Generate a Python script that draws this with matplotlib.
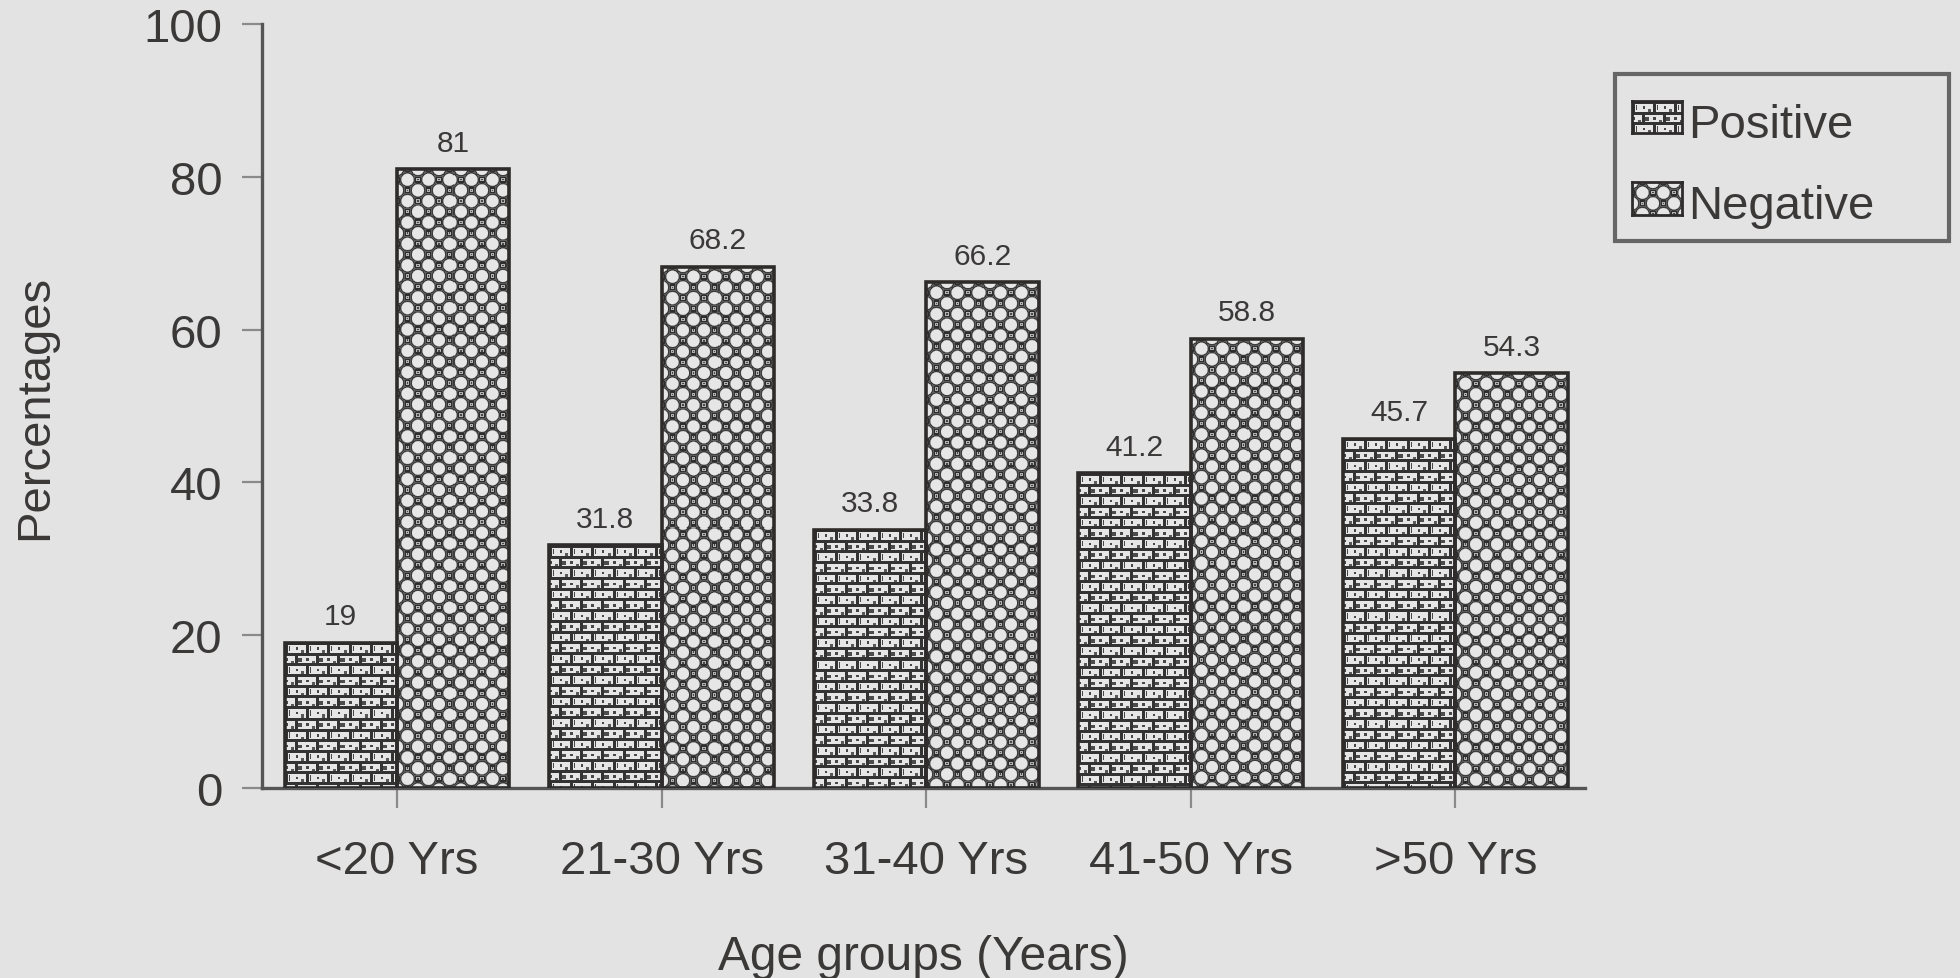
import numpy as np
import matplotlib
matplotlib.use("Agg")
import matplotlib.pyplot as plt
from matplotlib.patches import Rectangle

# ---- data ----
categories = ["<20 Yrs", "21-30 Yrs", "31-40 Yrs", "41-50 Yrs", ">50 Yrs"]
positive = [19, 31.8, 33.8, 41.2, 45.7]
negative = [81, 68.2, 66.2, 58.8, 54.3]
series_names = ["Positive", "Negative"]
y_ticks = [0, 20, 40, 60, 80, 100]

BG = "#e3e3e3"
INK = "#3b3838"
EDGE = "#2e2b2b"
plt.rcParams["font.family"] = ["Liberation Sans", "DejaVu Sans"]


def brick_texture(w, h):
    """Brick-wall fill, built in pixel units."""
    yy, xx = np.mgrid[0:h, 0:w] + 0.5
    rh, bw = 10.7, 21.0
    row = np.floor(yy / rh)
    v = yy - row * rh
    odd = (row % 2) == 1
    u = (xx + odd * bw / 2) % bw
    img = np.full((h, w), 0.90)
    mort = 3.0
    img[(v < mort) | (u < mort)] = 0.20
    inside = (v >= mort) & (u >= mort)
    dot = (np.abs(u - 12.0) < 1.3) & (np.abs(v - 6.8) < 1.3)
    img[dot & inside] = 0.28
    tick = (~odd) & (u >= 4.0) & (u < 5.5) & (v > 3.8) & (v < 9.2)
    img[tick & inside] = 0.28
    blob = odd & (u < 7.0) & (v > 5.5) & (v < 9.2)
    img[blob & inside] = 0.30
    foot = (u > 16.0) & (u < 19.5) & (v > 8.0)
    img[foot & inside] = 0.35
    return img


def lattice_texture(w, h):
    """Light circles on a diagonal lattice with small squares between them."""
    yy, xx = np.mgrid[0:h, 0:w] + 0.5
    px, py = 21.0, 21.4
    u = xx % px
    v = yy % py
    circ = [(0, 0), (px, 0), (0, py), (px, py), (px / 2, py / 2)]
    sq = [(px / 2, 0), (px / 2, py), (0, py / 2), (px, py / 2)]
    dc = np.min([np.hypot(u - cx, v - cy) for cx, cy in circ], axis=0)
    ds = np.min([np.maximum(np.abs(u - cx), np.abs(v - cy)) for cx, cy in sq], axis=0)
    r = 6.5
    img = np.full((h, w), 0.36)
    img = np.where(dc < r + 0.8, 0.24, img)
    img = np.where(dc < r, np.clip(0.90 - (dc - (r - 1.0)) * 0.5, 0.4, 0.9), img)
    img = np.where(ds < 3.0, 0.18, img)
    img = np.where(ds < 1.6, 0.70, img)
    img = np.where(ds < 0.7, 0.28, img)
    return img


textures = [brick_texture, lattice_texture]

fig = plt.figure(figsize=(19.6, 9.79), dpi=100, facecolor=BG)
ax = fig.add_axes([0.1337, 0.1941, 0.675, 0.7804])
ax.set_facecolor(BG)

x = np.arange(len(categories))
width = 0.425
ax.set_xlim(-0.51, 4.49)
ax.set_ylim(0, 100)

groups = [positive, negative]
offsets = [-width / 2, width / 2]
for vals, off, tex in zip(groups, offsets, textures):
    bars = ax.bar(x + off, vals, width, facecolor="none", edgecolor=EDGE,
                  linewidth=2.6, zorder=3)
    for bar, v in zip(bars, vals):
        bb = bar.get_window_extent()
        w_px = max(int(round(bb.width)), 1)
        h_px = max(int(round(bb.height)), 1)
        img = tex(w_px, h_px)
        x0 = bar.get_x()
        ax.imshow(img, cmap="gray", vmin=0, vmax=1, interpolation="nearest",
                  extent=(x0, x0 + bar.get_width(), 0, bar.get_height()),
                  origin="upper", aspect="auto", zorder=2)
        ax.annotate(f"{v:g}", (x0 + bar.get_width() / 2, v),
                    xytext=(0, 9), textcoords="offset points",
                    ha="center", va="bottom", fontsize=21.5, color=INK)

ax.set_xlim(-0.51, 4.49)
ax.set_ylim(0, 100)

ax.set_xticks(x)
ax.set_xticklabels(categories)
ax.set_yticks(y_ticks)
ax.tick_params(axis="both", labelsize=34, labelcolor=INK, color="#8a8a8a",
               length=14.4, width=1.6)
ax.tick_params(axis="y", pad=14)
ax.tick_params(axis="x", pad=22)

for s in ("top", "right"):
    ax.spines[s].set_visible(False)
for s in ("left", "bottom"):
    ax.spines[s].set_color("#555555")
    ax.spines[s].set_linewidth(2.4)

ax.set_ylabel("Percentages", fontsize=34, color=INK)
ax.yaxis.set_label_coords(-0.1716, 0.5)
ax.yaxis.label.set_va("center")
ax.set_xlabel("Age groups (Years)", fontsize=34.5, color=INK)
ax.xaxis.set_label_coords(0.5, -0.2200)
ax.xaxis.label.set_va("center")

# ---- legend box ----
W, H = 1960.0, 979.0
fig.patches.append(Rectangle((1615 / W, 1 - 242 / H), 334 / W, 167 / H,
                             transform=fig.transFigure, facecolor="none",
                             edgecolor="#666666", linewidth=3))
rows = [(102, 134, 126), (183, 216, 207)]
for name, tex, (top, bot, yc) in zip(series_names, textures, rows):
    hax = fig.add_axes([1632 / W, 1 - bot / H, 50 / W, (bot - top) / H])
    hax.imshow(tex(50, bot - top), cmap="gray", vmin=0, vmax=1,
               interpolation="nearest", aspect="auto")
    hax.set_xticks([])
    hax.set_yticks([])
    for sp in hax.spines.values():
        sp.set_color(EDGE)
        sp.set_linewidth(2)
    fig.text(1688 / W, 1 - yc / H, name, fontsize=34, color=INK,
             ha="left", va="center")

fig.savefig("out.png", dpi=100, facecolor=BG)
